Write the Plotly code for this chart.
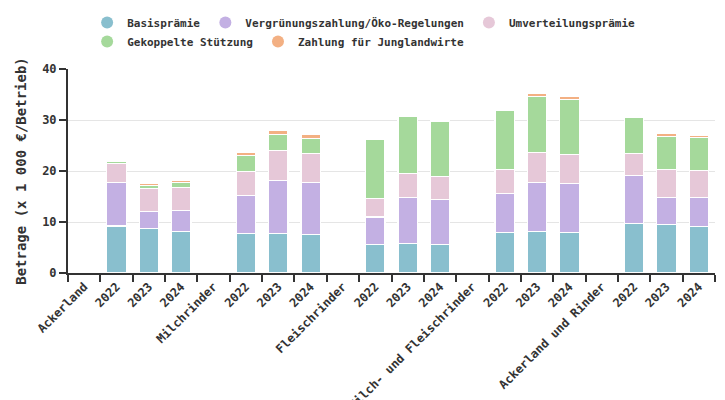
import plotly.graph_objects as go

# Category labels (group headers and years); zero-width spaces keep duplicates unique
groups = ["Ackerland", "Milchrinder", "Fleischrinder", "Milch- und Fleischrinder", "Ackerland und Rinder"]
years = ["2022", "2023", "2024"]

series_names = ["Basisprämie", "Vergrünungszahlung/Öko-Regelungen", "Umverteilungsprämie",
                "Gekoppelte Stützung", "Zahlung für Junglandwirte"]
colors = ["#89bfce", "#c3b0e3", "#e6c8d8", "#a5d99b", "#f3b083"]

# values per group: 2022, 2023, 2024
basis = [[9.2, 8.8, 8.2], [7.8, 7.8, 7.6], [5.6, 5.8, 5.6], [7.95, 8.15, 7.95], [9.75, 9.55, 9.15]]
vergr = [[8.6, 3.3, 4.1], [7.45, 10.3, 10.2], [5.4, 9.05, 8.85], [7.65, 9.65, 9.65], [9.4, 5.3, 5.7]]
umv = [[3.7, 4.5, 4.5], [4.7, 5.9, 5.65], [3.6, 4.7, 4.5], [4.7, 5.85, 5.7], [4.3, 5.5, 5.3]]
gek = [[0.3, 0.5, 1.0], [3.05, 3.15, 2.9], [11.5, 11.1, 10.75], [11.5, 10.9, 10.7], [7.0, 6.45, 6.4]]
jung = [[0.0, 0.4, 0.3], [0.6, 0.9, 0.9], [0.0, 0.35, 0.3], [0.35, 0.75, 0.7], [0.35, 0.5, 0.45]]

all_series = [basis, vergr, umv, gek, jung]

categories = []
tick_text = []
for gi, g in enumerate(groups):
    categories.append(g)
    tick_text.append(g)
    for y in years:
        categories.append(y + "\u200b" * (gi + 1))
        tick_text.append(y)

fig = go.Figure()
for si, (name, col, data) in enumerate(zip(series_names, colors, all_series)):
    xs, ys = [], []
    for gi in range(len(groups)):
        for yi, y in enumerate(years):
            xs.append(y + "\u200b" * (gi + 1))
            ys.append(data[gi][yi])
    fig.add_trace(go.Bar(x=xs, y=ys, name=name, marker=dict(color=col, line=dict(color="white", width=1.2)),
                         showlegend=False, legendgroup=name))
for name, col in zip(series_names, colors):
    fig.add_trace(go.Scatter(x=[None], y=[None], mode="markers", name=name, legendgroup=name,
                             marker=dict(color=col, size=12, symbol="circle")))

font_main = dict(family="DejaVu Sans Mono", size=12, color="#333333", weight="bold")

# the page adds an 8px body margin; size/margins compensate for it
fig.update_layout(
    width=717, height=392,
    barmode="stack", bargap=0.4,
    plot_bgcolor="white", paper_bgcolor="white",
    margin=dict(l=60, r=10, t=61, b=127, autoexpand=False),
    font=font_main,
    legend=dict(orientation="h", x=0.496, xref="container", xanchor="center",
                y=1.0, yref="container", yanchor="top",
                font=dict(family="DejaVu Sans Mono", size=11, color="#333333", weight="bold"),
                tracegroupgap=0, traceorder="grouped", itemclick=False),
    xaxis=dict(type="category", categoryorder="array", categoryarray=categories,
               tickmode="array", tickvals=categories, ticktext=tick_text,
               tickson="boundaries", ticks="outside", ticklen=7, tickwidth=2, tickcolor="#333333",
               tickangle=-45, showline=True, linewidth=2, linecolor="#333333", showgrid=False,
               automargin=True, range=[-0.5, len(categories) - 0.5]),
    yaxis=dict(range=[0, 40], dtick=10, ticks="outside", ticklen=7, tickwidth=2, tickcolor="#333333",
               showline=True, linewidth=2, linecolor="#333333", gridcolor="#e5e5e5", gridwidth=1,
               zeroline=False, automargin=True,
               title=dict(text="Betrage (x 1 000 €/Betrieb)", standoff=12)),
)

fig.write_html("out.html")
